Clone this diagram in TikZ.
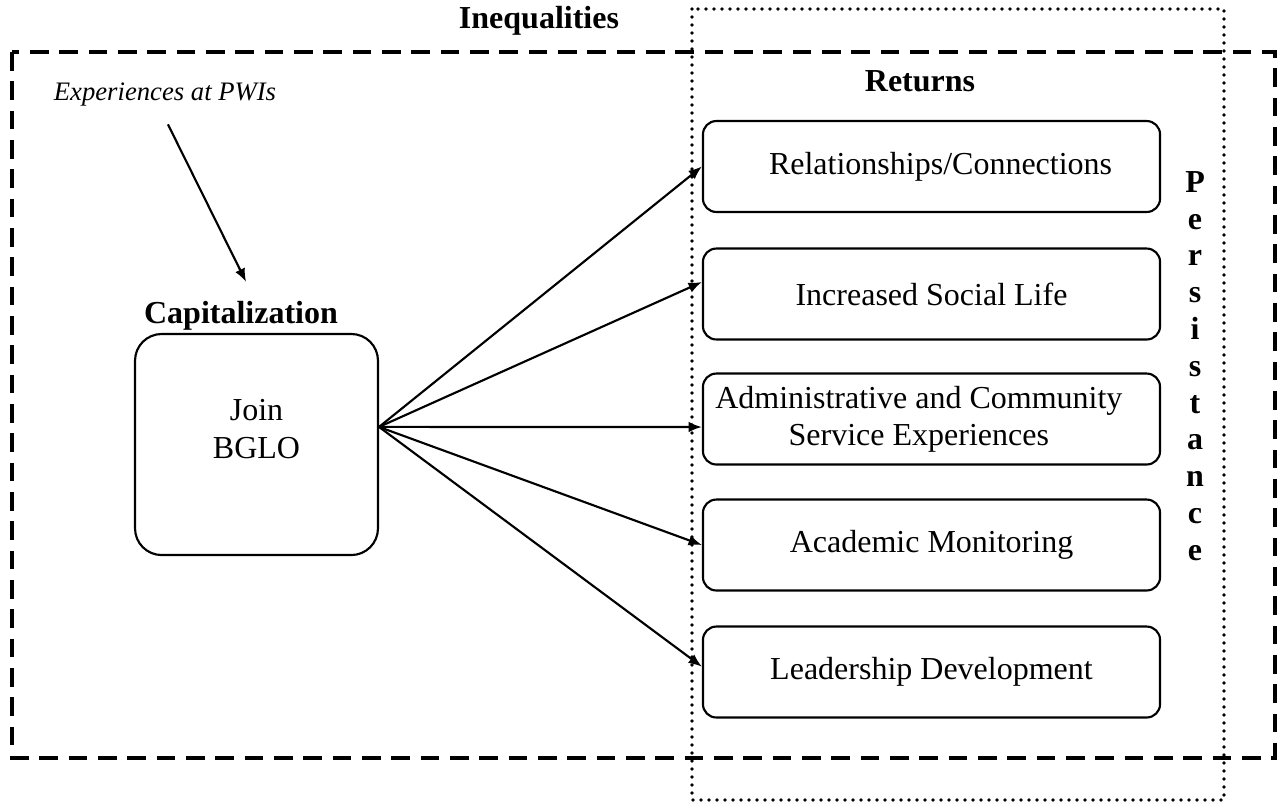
\documentclass[tikz,border=0pt]{standalone}
\usepackage{fontspec}
\setmainfont{Liberation Serif}
\usetikzlibrary{arrows.meta}
\begin{document}
\begin{tikzpicture}[>={Latex[length=5pt,width=4pt]},x=0.375pt,y=-0.375pt,
	every node/.style={font=\fontsize{12}{14}\selectfont},
	lbl/.style={inner sep=0pt,anchor=base},
	retbox/.style={draw,thick,rounded corners=5pt,minimum width=171.4pt,minimum height=34.1pt,align=center},
	joinbox/.style={draw,thick,rounded corners=10pt,minimum width=91.1pt,minimum height=82.9pt}]
	\useasboundingbox (0,0) rectangle (1285,805);
	
	% frames
	\draw[line width=1.5pt,dash pattern=on 7pt off 4pt] (12,52) rectangle (1275,758);
	\draw[line width=1.4pt,line cap=round,dash pattern=on 0pt off 3pt] (692,9) rectangle (1224,800);
	
	\node[lbl,font=\fontsize{12}{14}\selectfont\bfseries] (ineq) at (539,28) {Inequalities};
	\node[lbl,font=\fontsize{12}{14}\selectfont\bfseries] (returns) at (920,91) {Returns};
	\node[align=center,font=\fontsize{12}{13.8}\selectfont\bfseries] (persist) at (1195,366)
		{P\\e\\r\\s\\i\\s\\t\\a\\n\\c\\e};
	
	\begin{scope}
		\node[lbl,font=\fontsize{10}{12}\selectfont\itshape] (pwi) at (165,100) {Experiences at PWIs};
		\node[lbl,font=\fontsize{12}{14}\selectfont\bfseries] (cap) at (241,323) {Capitalization};
		\node[joinbox] (join) at (256.5,444.5) {};
		\node[align=center] (jointext) at (256.5,429) {Join\\BGLO};
	\end{scope}
	
	\begin{scope}
		\node[retbox] (ret1) at (931.5,166.5) {\hspace*{6.8pt}Relationships/Connections};
		\node[retbox] (ret2) at (931.5,294) {Increased Social Life};
		\node[retbox] (ret3) at (931.5,419) {Administrative and Community\hspace*{9.5pt}\\Service Experiences\hspace*{9.5pt}};
		\node[retbox] (ret4) at (931.5,545) {Academic Monitoring};
		\node[retbox] (ret5) at (931.5,672) {Leadership Development};
	\end{scope}
	
	\begin{scope}[thick]
		\draw[->] ([xshift=1.1pt,yshift=-6.8pt]pwi.south) -- ([xshift=1.9pt,yshift=6.9pt]cap.north);
		\coordinate (hub) at ([yshift=6.6pt]join.east);
		\draw[->] (hub) -- (ret1.west);
		\draw[->] (hub) -- ([yshift=4.5pt]ret2.west);
		\draw[->] (hub) -- ([yshift=-3pt]ret3.west);
		\draw[->] (hub) -- (ret4.west);
		\draw[->] (hub) -- ([yshift=2pt]ret5.west);
	\end{scope}
\end{tikzpicture}
\end{document}
